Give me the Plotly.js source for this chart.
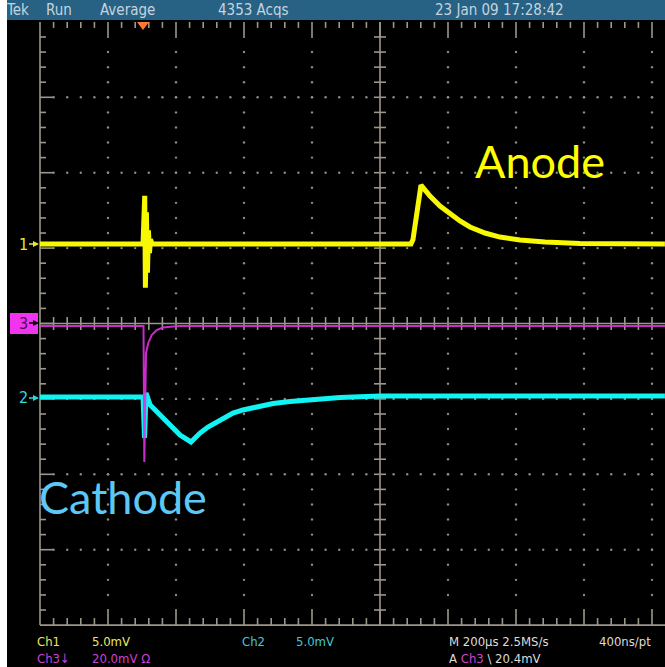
<!DOCTYPE html>
<html>
<head>
<meta charset="utf-8">
<script src="https://cdn.plot.ly/plotly-3.0.1.min.js"></script>
<style>
html,body{margin:0;padding:0;background:#fff;}
</style>
</head>
<body>
<div id="chart" style="width:665px;height:667px;"></div>
<script>
// ---- Data (time in µs relative to screen centre, amplitudes in mV) ----
const ch1Time = [-1000, -697, -692, -690, -687, -684, -681, -678, -675, -670, 91, 97, 120.6, 147.1, 176.5, 205.9, 235.3, 264.7, 308.8, 352.9, 411.8, 485.3, 588.2, 838];
const ch1mV   = [0, 0, 3.2, -2.9, 2.1, -1.9, 0.9, -0.6, 0.3, 0, 0, 0.3, 3.91, 3.18, 2.52, 1.99, 1.53, 1.13, 0.73, 0.46, 0.27, 0.13, 0.03, 0];

const ch2Time = [-1000, -697, -692.6, -688, -676, -626, -588, -555.9, -529.4, -505.9, -479.4, -455.9, -432.4, -402.9, -373.5, -344.1, -314.7, -264.7, -214.7, -161.8, -117.6, 0, 838];
const ch2mV   = [0, 0, -2.72, 0.27, -0.53, -1.72, -2.52, -2.98, -2.39, -1.99, -1.66, -1.33, -1.06, -0.86, -0.70, -0.56, -0.43, -0.30, -0.20, -0.10, -0.03, 0.07, 0.07];

const ch3Time = [-1000, -695.6, -693.2, -689.7, -688.2, -681.5, -671.5, -656.8, -638.2, -608.8, -588.2, 838];
const ch3mV   = [0, 0, -36.1, -19.6, -7.2, -4.5, -2.4, -1.1, -0.4, -0.13, 0, 0];

// channel settings
const ch1Scale = 5.0, ch2Scale = 5.0, ch3Scale = 20.0;   // mV / div
const ch1Offset = 1.054, ch2Offset = -0.975, ch3Offset = -0.033; // div

const topTexts = ["Tek", "Run", "Average", "4353 Acqs", "23 Jan 09 17:28:42"];

// ---- geometry helpers ----
const L = 30, T = 15, W = 665, H = 667, B = 35;
const plotW = W - L, plotH = H - T - B;
const usPerPx = 200 / 68, divPerPx = 1 / 75.4;
const xMin = -1000 - 10 * usPerPx, xMax = -1000 + 625 * usPerPx;
const yMax = (323.5 - T) * divPerPx, yMin = (323.5 - (H - B)) * divPerPx;
const X = px => (px - L) / plotW;
const Y = py => ((H - B) - py) / plotH;

const grey = '#9c978b';

// ---- graticule ----
const gx = [], gy = [];
function seg(x0, y0, x1, y1) { gx.push(x0, x1, null); gy.push(y0, y1, null); }
seg(0, -4, 0, 4);
seg(-1000, 0, xMax, 0);
seg(-1000, -4, -1000, 4);
seg(-1000, -4, xMax, -4);
for (let j = -19; j <= 19; j++) {
  const y = j * 0.2;
  if (j !== 0) seg(-6 * usPerPx, y, 6 * usPerPx, y);
  const len = (j % 5 === 0) ? 13 : 6;
  seg(-1000, y, -1000 + len * usPerPx, y);
}
for (let i = 1; -1000 + i * 40 <= xMax; i++) {
  const x = -1000 + i * 40;
  const major = (i % 5 === 0);
  if (Math.abs(x) > 1) seg(x, -6.5 * divPerPx, x, 6.5 * divPerPx);
  seg(x, 4, x, 4 - (major ? 16 : 6) * divPerPx);
  seg(x, -4, x, -4 + (major ? 16 : 7) * divPerPx);
}
const dx = [], dy = [];
for (let k = -800; k <= 800; k += 200) {
  if (k === 0) continue;
  for (let j = -18; j <= 18; j++) { dx.push(k); dy.push(j * 0.2); }
}
for (let m = -3; m <= 3; m++) {
  if (m === 0) continue;
  for (let i = 1; -1000 + i * 40 <= xMax; i++) { dx.push(-1000 + i * 40); dy.push(m); }
}

const traces = [
  {x: gx, y: gy, mode: 'lines', line: {color: grey, width: 1.6}, hoverinfo: 'skip'},
  {x: dx, y: dy, mode: 'markers', marker: {color: '#8e8a80', size: 2.4}, hoverinfo: 'skip'},
  {x: ch2Time, y: ch2mV.map(v => v / ch2Scale + ch2Offset), mode: 'lines', line: {color: '#10f4f4', width: 5}, name: 'Ch2'},
  {x: ch3Time, y: ch3mV.map(v => v / ch3Scale + ch3Offset), mode: 'lines', line: {color: '#e030e0', width: 2}, opacity: 0.9, name: 'Ch3'},
  {x: ch1Time, y: ch1mV.map(v => v / ch1Scale + ch1Offset), mode: 'lines', line: {color: '#f8f800', width: 5}, name: 'Ch1'}
];

const narrow = 'DejaVu Sans Condensed, DejaVu Sans, sans-serif';
function txt(px, py, text, color, size, family) {
  return {xref: 'paper', yref: 'paper', x: X(px), y: Y(py), xanchor: 'left', yanchor: 'middle', align: 'left',
          text: text, showarrow: false, borderpad: 0, font: {color: color, size: size, family: family || narrow}};
}
function marker(label, py, color, arrowColor) {
  return {xref: 'paper', yref: 'paper', x: X(39), y: Y(py), text: label, showarrow: true,
          ax: -16, ay: 0, arrowhead: 2, arrowsize: 0.8, arrowwidth: 1.5, arrowcolor: arrowColor,
          font: {color: color, size: 16, family: narrow}};
}
const span = (c, s) => `<span style="color:${c}">${s}</span>`;

const topX = [8, 48, 102, 220, 437];
const annotations = [];
topTexts.forEach((t, i) => annotations.push(txt(topX[i] - 3, 10, t, '#c4d4de', 15)));

const yel = '#e8e860', cya = '#40c8d0', mag = '#d040d0', wht = '#dcdcdc';
const rMid = 649.5, r1 = 641, fs = 13;
annotations.push(txt(36, rMid, span(yel, 'Ch1') + '<br>' + span(mag, 'Ch3↓'), yel, fs));
annotations.push(txt(91, rMid, span(yel, '5.0mV') + '<br>' + span(mag, '20.0mV Ω'), yel, fs));
annotations.push(txt(241, r1, 'Ch2', cya, fs));
annotations.push(txt(295, r1, '5.0mV', cya, fs));
annotations.push(txt(448, rMid, 'M 200µs 2.5MS/s<br>A ' + span(mag, 'Ch3') + ' \\ 20.4mV', wht, fs));
annotations.push(txt(598, r1, '400ns/pt', wht, fs));

annotations.push(txt(474, 161, 'Anode', '#ffff00', 45, 'Lato, Open Sans, sans-serif'));
annotations.push(txt(38, 497, 'Cathode', '#5cc8f8', 45, 'Lato, Open Sans, sans-serif'));

annotations.push(marker('1', 244, '#e8e830', '#e8e830'));
annotations.push(marker('2', 398, '#30d8e0', '#30d8e0'));
annotations.push(marker('3', 323, '#501050', '#000000'));

const shapes = [
  {type: 'rect', xref: 'paper', yref: 'paper', x0: X(0), x1: X(7), y0: Y(667), y1: Y(0), fillcolor: '#ffffff', line: {width: 0}, layer: 'above'},
  {type: 'rect', xref: 'paper', yref: 'paper', x0: X(7), x1: X(665), y0: Y(20), y1: Y(0), fillcolor: '#276184', line: {width: 0}, layer: 'below'},
  {type: 'rect', xref: 'paper', yref: 'paper', x0: X(10), x1: X(38), y0: Y(334), y1: Y(313), fillcolor: '#f034f0', line: {width: 0}, layer: 'below'},
  {type: 'path', xref: 'paper', yref: 'paper',
   path: `M ${X(137)} ${Y(22)} L ${X(149)} ${Y(22)} L ${X(143)} ${Y(30)} Z`, fillcolor: '#ff7a30', line: {width: 0}, layer: 'above'}
];

const layout = {
  width: W, height: H,
  margin: {l: L, r: 0, t: T, b: B, pad: 0},
  paper_bgcolor: '#000000', plot_bgcolor: '#000000',
  showlegend: false,
  xaxis: {range: [xMin, xMax], visible: false, fixedrange: true},
  yaxis: {range: [yMin, yMax], visible: false, fixedrange: true},
  shapes: shapes,
  annotations: annotations
};

Plotly.newPlot('chart', traces, layout, {displayModeBar: false, staticPlot: true});
</script>
</body>
</html>
